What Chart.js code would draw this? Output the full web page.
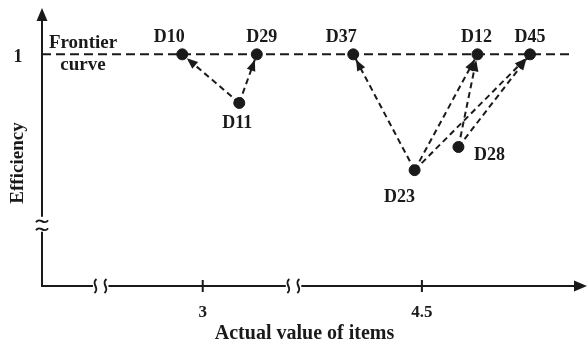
<!DOCTYPE html>
<html><head><meta charset="utf-8">
<script src="https://cdn.jsdelivr.net/npm/chart.js@4/dist/chart.umd.min.js"></script>
<style>html,body{margin:0;padding:0;background:#fff}</style>
</head><body>
<canvas id="c" width="587" height="342"></canvas>
<script>
// ---- data ----
const pointNames = ['D10', 'D29', 'D37', 'D12', 'D45', 'D11', 'D23', 'D28'];
const pointX     = [2.86, 3.37, 4.03, 4.88, 5.24, 3.25, 4.45, 4.75];
const pointY     = [1, 1, 1, 1, 1, 0.79, 0.50, 0.60];
const arrowFrom  = ['D11', 'D11', 'D23', 'D23', 'D23', 'D28', 'D28'];
const arrowTo    = ['D10', 'D29', 'D37', 'D12', 'D45', 'D12', 'D45'];
const xTickValues = [3, 4.5];
const yTickValues = [1];
const xBreaks = [2.3, 3.62];
const yBreaks = [0.26];
const frontierY = 1;
const frontierEndX = 5.53;
const xTitle = 'Actual value of items';
const yTitle = 'Efficiency';
const frontierLabel = ['Frontier', 'curve'];

// ---- styles / layout ----
const FONT = '"Liberation Serif", "Times New Roman", serif';
const INK = '#1a1a1a';
const labelOffsets = {D10:[-13,-17], D29:[5,-17], D37:[-12,-17], D12:[-1,-17], D45:[0,-17], D11:[-2,20], D23:[-15,27], D28:[31,8]};
const X_MIN = 1.9, X_MAX = 5.493, Y_MIN = 0, Y_MAX = 1.2;
const ARROW_EXT = 20; // x-axis arrow extends past the plot area

const idx = n => pointNames.indexOf(n);
const pt = n => ({x: pointX[idx(n)], y: pointY[idx(n)]});

const datasets = [];
datasets.push({
  type: 'line', data: [{x: X_MIN, y: frontierY}, {x: frontierEndX, y: frontierY}],
  borderColor: INK, borderWidth: 2, borderDash: [9, 5], pointRadius: 0, fill: false, order: 3, clip: false
});
arrowFrom.forEach((f, i) => {
  datasets.push({
    type: 'line', data: [pt(f), pt(arrowTo[i])],
    borderColor: INK, borderWidth: 2, borderDash: [6, 4], pointRadius: 0, fill: false, order: 2
  });
});
datasets.push({
  type: 'scatter', data: pointNames.map(n => pt(n)),
  backgroundColor: INK, borderColor: INK, pointRadius: 5.5, pointHoverRadius: 5.5, order: 1, clip: false
});

const drawPlugin = {
  id: 'schematic',
  beforeDatasetsDraw(chart) {
    const ctx = chart.ctx, xs = chart.scales.x, ys = chart.scales.y, a = chart.chartArea;
    const ox = a.left, oy = a.bottom, xEnd = a.right + ARROW_EXT;
    ctx.save();
    ctx.strokeStyle = INK; ctx.fillStyle = INK; ctx.lineWidth = 2; ctx.lineCap = 'butt';
    // y axis with breaks
    const yb = yBreaks.map(v => ys.getPixelForValue(v)).sort((p, q) => p - q);
    let yStart = a.top + 10;
    ctx.beginPath();
    yb.forEach(c => { ctx.moveTo(ox, yStart); ctx.lineTo(ox, c - 9); yStart = c + 6; });
    ctx.moveTo(ox, yStart); ctx.lineTo(ox, oy);
    ctx.stroke();
    yb.forEach(c => {
      [c - 4.5, c + 3.5].forEach(yy => {
        ctx.beginPath();
        ctx.moveTo(ox - 6, yy + 1);
        ctx.bezierCurveTo(ox - 2, yy - 5, ox + 2, yy + 5, ox + 6, yy - 1);
        ctx.stroke();
      });
    });
    // y arrow head
    ctx.beginPath();
    ctx.moveTo(ox, a.top); ctx.lineTo(ox - 5.5, a.top + 13); ctx.lineTo(ox + 5.5, a.top + 13); ctx.closePath(); ctx.fill();
    // x axis with breaks
    const xb = xBreaks.map(v => xs.getPixelForValue(v)).sort((p, q) => p - q);
    let xStart = ox - 1;
    ctx.beginPath();
    xb.forEach(c => { ctx.moveTo(xStart, oy); ctx.lineTo(c - 7.5, oy); xStart = c + 8; });
    ctx.moveTo(xStart, oy); ctx.lineTo(xEnd - 10, oy);
    ctx.stroke();
    xb.forEach(c => {
      [c - 5, c + 5].forEach(xx => {
        ctx.beginPath();
        ctx.moveTo(xx + 1, oy - 7);
        ctx.bezierCurveTo(xx - 5, oy - 2, xx + 5, oy + 2, xx - 1, oy + 7);
        ctx.stroke();
      });
    });
    // x arrow head
    ctx.beginPath();
    ctx.moveTo(xEnd, oy); ctx.lineTo(xEnd - 13, oy - 5.5); ctx.lineTo(xEnd - 13, oy + 5.5); ctx.closePath(); ctx.fill();
    // x ticks
    ctx.beginPath();
    xTickValues.forEach(v => { const px = xs.getPixelForValue(v); ctx.moveTo(px, oy - 6); ctx.lineTo(px, oy + 6); });
    ctx.stroke();
    ctx.restore();
  },
  afterDatasetsDraw(chart) {
    const ctx = chart.ctx, xs = chart.scales.x, ys = chart.scales.y, a = chart.chartArea;
    ctx.save();
    ctx.fillStyle = INK;
    // arrow heads
    arrowFrom.forEach((f, i) => {
      const p0 = pt(f), p1 = pt(arrowTo[i]);
      const x0 = xs.getPixelForValue(p0.x), y0 = ys.getPixelForValue(p0.y);
      const x1 = xs.getPixelForValue(p1.x), y1 = ys.getPixelForValue(p1.y);
      const ang = Math.atan2(y1 - y0, x1 - x0);
      const tipX = x1 - Math.cos(ang) * 6, tipY = y1 - Math.sin(ang) * 6;
      const L = 11, W = 4.5;
      const bx = tipX - Math.cos(ang) * L, by = tipY - Math.sin(ang) * L;
      ctx.beginPath();
      ctx.moveTo(tipX, tipY);
      ctx.lineTo(bx - Math.sin(ang) * W, by + Math.cos(ang) * W);
      ctx.lineTo(bx + Math.sin(ang) * W, by - Math.cos(ang) * W);
      ctx.closePath(); ctx.fill();
    });
    // point labels
    ctx.font = 'bold 18px ' + FONT;
    ctx.textAlign = 'center'; ctx.textBaseline = 'middle';
    pointNames.forEach((n, i) => {
      const o = labelOffsets[n];
      ctx.fillText(n, xs.getPixelForValue(pointX[i]) + o[0], ys.getPixelForValue(pointY[i]) + o[1]);
    });
    // frontier label
    ctx.font = 'bold 19px ' + FONT;
    const fy = ys.getPixelForValue(frontierY);
    ctx.fillText(frontierLabel[0], a.left + 41, fy - 11);
    ctx.fillText(frontierLabel[1], a.left + 41, fy + 11);
    // y tick labels
    ctx.font = 'bold 18px ' + FONT;
    yTickValues.forEach(v => ctx.fillText(String(v), a.left - 24, ys.getPixelForValue(v) + 3));
    // y title
    ctx.font = 'bold 19px ' + FONT;
    ctx.translate(a.left - 24, 163);
    ctx.rotate(-Math.PI / 2);
    ctx.fillText(yTitle, 0, 0);
    ctx.restore();
  }
};

new Chart(document.getElementById('c'), {
  data: {datasets},
  options: {
    responsive: false, animation: false, devicePixelRatio: 1,
    layout: {padding: {left: 42, right: ARROW_EXT, top: 8, bottom: 0}},
    plugins: {legend: {display: false}, tooltip: {enabled: false}},
    scales: {
      x: {
        type: 'linear', min: X_MIN, max: X_MAX,
        grid: {display: false, drawTicks: false}, border: {display: false},
        afterBuildTicks: s => { s.ticks = xTickValues.map(v => ({value: v})); },
        afterFit: s => { s.height = 56; },
        ticks: {padding: 18, color: INK, font: {family: FONT, size: 17, weight: 'bold', lineHeight: 1}, callback: v => String(v)},
        title: {display: true, text: xTitle, color: INK, padding: {top: 2, bottom: -2}, font: {family: FONT, size: 20, weight: 'bold', lineHeight: 1}}
      },
      y: {type: 'linear', min: Y_MIN, max: Y_MAX, display: false}
    }
  },
  plugins: [drawPlugin]
});
</script>
</body></html>
